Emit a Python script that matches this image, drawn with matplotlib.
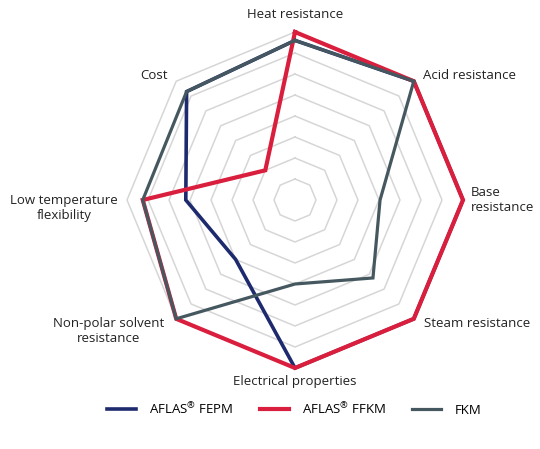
import numpy as np
import matplotlib
matplotlib.use('Agg')
from matplotlib import pyplot as plt

plt.rcParams['font.family'] = ['Open Sans', 'DejaVu Sans']

categories = ['Heat resistance', 'Acid resistance', 'Base\nresistance', 'Steam resistance',
              'Electrical properties', 'Non-polar solvent\nresistance',
              'Low temperature\nflexibility', 'Cost']
fepm = [7.6, 8.0, 8.0, 8.0, 8.0, 4.0, 5.2, 7.3]
ffkm = [8.0, 8.0, 8.0, 8.0, 8.0, 8.0, 7.25, 2.0]
fkm = [7.6, 8.0, 4.05, 5.25, 4.0, 8.0, 7.25, 7.3]
series_names = ['AFLAS$^{\\mathregular{®}}$ FEPM', 'AFLAS$^{\\mathregular{®}}$ FFKM', 'FKM']
rings = [1, 2, 3, 4, 5, 6, 7, 8]

col_blue = '#1e2a6e'
col_red = '#d91f3d'
col_gray = '#46585f'

n = len(categories)
theta = np.arange(n) * 2 * np.pi / n
theta_c = np.append(theta, theta[0])

def closed(v):
    return np.append(v, v[0])

fig = plt.figure(figsize=(5.4, 4.49), dpi=100)
ax = fig.add_axes([127/540, 81/449, 336/540, 336/449], projection='polar')
ax.set_theta_offset(np.pi/2)
ax.set_theta_direction(-1)
ax.set_ylim(0, 8)
ax.axis('off')

# octagon grid
for r in rings:
    ax.plot(theta_c, [r]*(n+1), color='#d6d6d6', lw=1.1, zorder=1, clip_on=False)

l1, = ax.plot(theta_c, closed(fepm), color=col_blue, lw=2.6, zorder=3, clip_on=False,
              solid_joinstyle='miter')
l2, = ax.plot(theta_c, closed(ffkm), color=col_red, lw=3.0, zorder=4, clip_on=False,
              solid_joinstyle='miter')
l3, = ax.plot(theta_c, closed(fkm), color=col_gray, lw=2.3, zorder=5, clip_on=False,
              solid_joinstyle='miter')

# label placement: pixel offsets from the outer vertex
offs = [(0, 17, 'center'), (9, 6, 'left'), (8, 0, 'left'), (10, -5, 'left'),
        (0, -14, 'center'), (-12, -12, 'right'), (-9, -8, 'right'), (-8, 6, 'right')]
for t, lab, (dx, dy, ha) in zip(theta, categories, offs):
    ma = 'left' if ha == 'left' else 'center'
    ax.annotate(lab, xy=(t, 8), xytext=(dx, dy), textcoords='offset pixels',
                ha=ha, va='center', multialignment=ma, fontsize=9.5,
                color='#222222', annotation_clip=False)

fig.legend([l1, l2, l3], series_names, loc='center', bbox_to_anchor=(0.545, 0.09),
           ncol=3, frameon=False, fontsize=9.5, handlelength=2.2, columnspacing=2.0,
           handletextpad=1.0)

fig.savefig('out.png', dpi=100)
